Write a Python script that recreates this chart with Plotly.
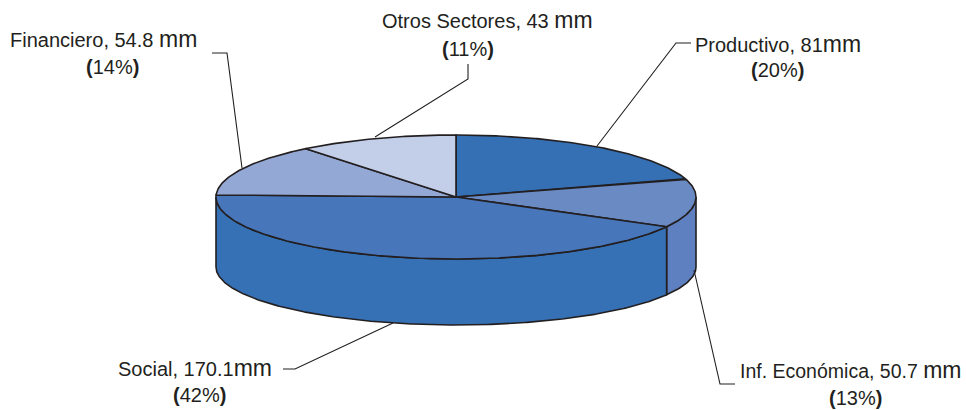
import math
import plotly.graph_objects as go

categories = ["Productivo", "Inf. Económica", "Social", "Financiero", "Otros Sectores"]
values = [81, 50.7, 170.1, 54.8, 43]
value_text = ["81", "50.7", "170.1", "54.8", "43"]
unit_gap = ["", " ", "", " ", " "]
percent_labels = [20, 13, 42, 14, 11]
top_colors = ["#3570b5", "#6a8ac4", "#4876ba", "#94a8d6", "#c3cfe9"]
wall_colors = ["#3570b5", "#5f80c0", "#3670b5", "#94a8d6", "#c3cfe9"]

INK = "#231f20"
FONT = "Liberation Sans, Arial, sans-serif"
CX, CY, A, B = 456, 197, 240, 62
BOTTOM_CY, BOTTOM_B = 267, 58


def top_pt(t):
    r = math.radians(t)
    return CX + A * math.sin(r), CY - B * math.cos(r)


def bot_pt(t):
    r = math.radians(t)
    return CX + A * math.sin(r), BOTTOM_CY - BOTTOM_B * math.cos(r)


def arc(fn, t0, t1):
    n = max(2, int(abs(t1 - t0)) * 2)
    return [fn(t0 + (t1 - t0) * i / n) for i in range(n + 1)]


total = sum(values)
edges = [0]
for v in values:
    edges.append(edges[-1] + v / total * 360)

fig = go.Figure()


def poly(pts, fill, line_w=1.6):
    fig.add_trace(go.Scatter(
        x=[p[0] for p in pts], y=[p[1] for p in pts], mode="lines", fill="toself",
        fillcolor=fill, line=dict(color=INK, width=line_w), hoverinfo="skip", showlegend=False))


# front wall, only the part of each slice facing the viewer
for i in range(len(values)):
    t0, t1 = max(edges[i], 90), min(edges[i + 1], 270)
    if t1 > t0:
        pts = arc(top_pt, t0, t1) + arc(bot_pt, t1, t0)
        poly(pts + [pts[0]], wall_colors[i])

# top face
for i in range(len(values)):
    pts = [(CX, CY)] + arc(top_pt, edges[i], edges[i + 1]) + [(CX, CY)]
    poly(pts, top_colors[i])

# leader lines, pixel-space layout
leaders = [
    ([691, 676, 597], [43, 43, 146]),
    ([735, 720, 694], [384, 384, 270]),
    ([283, 295, 393], [369, 369, 323]),
    ([212, 227, 242], [53, 53, 168]),
    ([468, 468, 375], [64, 79, 137]),
]
for lx, ly in leaders:
    fig.add_trace(go.Scatter(x=lx, y=ly, mode="lines", line=dict(color=INK, width=1.1),
                             hoverinfo="skip", showlegend=False))

# label placement: (line-1 left x, line-1 y, percent centre x, percent y, line-1 size)
placement = [
    (693, 44, 777, 70, 20),
    (738, 370, 855, 398, 19.5),
    (116, 368, 199, 395, 20),
    (8, 39, 112, 67, 20),
    (380, 20, 468, 49, 20),
]
ann = []
for i, (lx, ly, px, py, fs) in enumerate(placement):
    first = (f"{categories[i]}, {value_text[i]}{unit_gap[i]}"
             f"<span style='font-size:23px'>mm</span>")
    ann.append(dict(x=lx, y=ly, xref="x", yref="y", text=first, showarrow=False,
                    xanchor="left", yanchor="middle", font=dict(family=FONT, size=fs, color=INK)))
    ann.append(dict(x=px, y=py, xref="x", yref="y", text=f"<b>(</b>{percent_labels[i]}%<b>)</b>",
                    showarrow=False, xanchor="center", yanchor="middle",
                    font=dict(family=FONT, size=20, color=INK)))

fig.update_layout(
    width=966, height=410, margin=dict(l=0, r=0, t=0, b=0),
    paper_bgcolor="white", plot_bgcolor="white", annotations=ann,
    xaxis=dict(range=[0, 966], visible=False, fixedrange=True),
    yaxis=dict(range=[410, 0], visible=False, fixedrange=True),
)
fig.write_html("out.html", config={"displayModeBar": False},
               post_script="document.body.style.margin='0';")
